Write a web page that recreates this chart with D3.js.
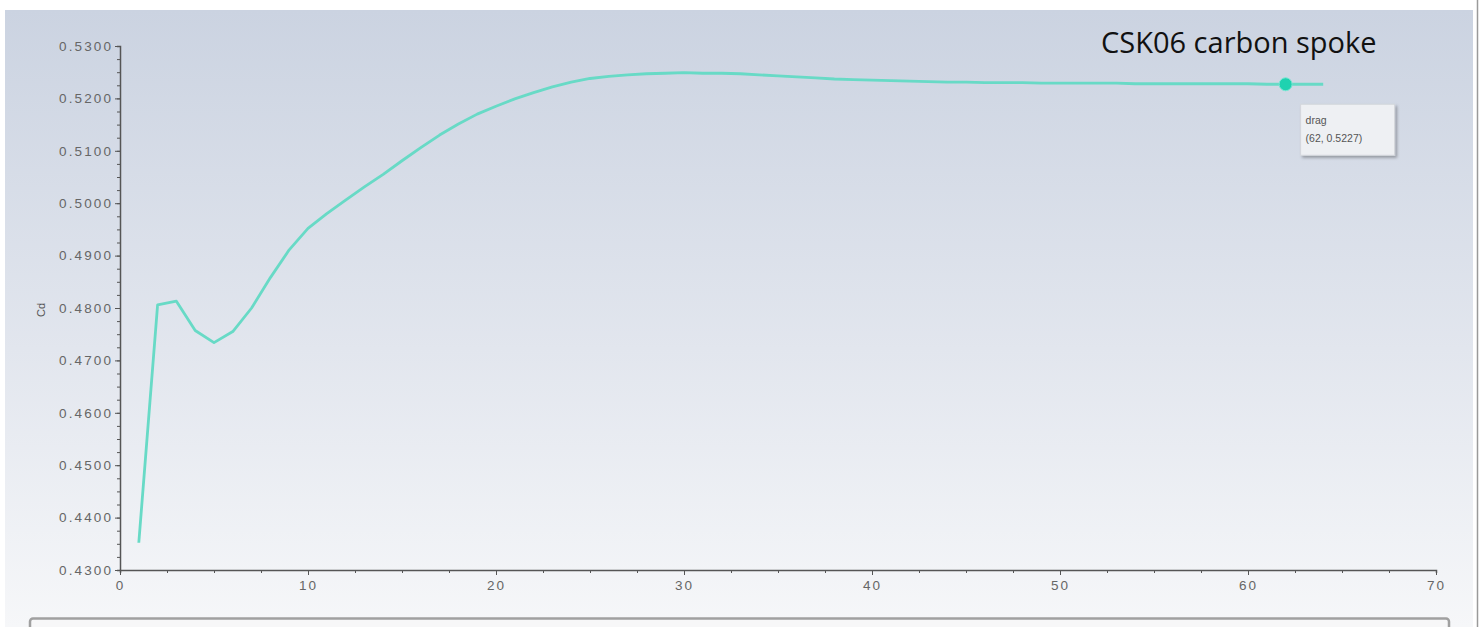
<!DOCTYPE html>
<html>
<head>
<meta charset="utf-8">
<script src="https://cdn.jsdelivr.net/npm/d3@7"></script>
<style>
  html, body { margin: 0; padding: 0; background: #ffffff; }
  svg { display: block; }
</style>
</head>
<body>
<svg id="chart" width="1482" height="627"></svg>
<script>
// ---- data ----
const iterations = [1,2,3,4,5,6,7,8,9,10,11,12,13,14,15,16,17,18,19,20,21,22,23,24,25,26,27,28,29,30,31,32,
  33,34,35,36,37,38,39,40,41,42,43,44,45,46,47,48,49,50,51,52,53,54,55,56,57,58,59,60,61,62,63,64];
const cdValues = [0.4352,0.4806,0.4813,0.4757,0.4734,0.4755,0.4800,0.4858,0.4911,0.4952,0.4980,0.5006,
  0.5031,0.5055,0.5081,0.5106,0.5130,0.5151,0.5170,0.5185,0.5199,0.5211,0.5222,0.5231,0.5238,0.5242,
  0.5245,0.5247,0.5248,0.5249,0.5248,0.5248,0.5247,0.5245,0.5243,0.5241,0.5239,0.5237,0.5236,0.5235,
  0.5234,0.5233,0.5232,0.5231,0.5231,0.5230,0.5230,0.5230,0.5229,0.5229,0.5229,0.5229,0.5229,0.5228,
  0.5228,0.5228,0.5228,0.5228,0.5228,0.5228,0.5227,0.5227,0.5227,0.5227];
const yTicks = [0.43,0.44,0.45,0.46,0.47,0.48,0.49,0.50,0.51,0.52,0.53];
const xTicks = [0,10,20,30,40,50,60,70];
const seriesName = "drag";
const annotationText = "CSK06 carbon spoke";
const yLabel = "Cd";
const highlight = { x: 62, y: 0.5227 };

// ---- drawing ----
const svg = d3.select("#chart");
const defs = svg.append("defs");
const grad = defs.append("linearGradient").attr("id","bg").attr("x1",0).attr("y1",0).attr("x2",0).attr("y2",1);
grad.append("stop").attr("offset","0%").attr("stop-color","#cbd3e1");
grad.append("stop").attr("offset","55%").attr("stop-color","#e2e6ee");
grad.append("stop").attr("offset","100%").attr("stop-color","#f6f7f9");

const shadow = defs.append("filter").attr("id","sh").attr("x","-20%").attr("y","-20%").attr("width","150%").attr("height","160%");
shadow.append("feDropShadow").attr("dx",2).attr("dy",2).attr("stdDeviation",1.5).attr("flood-color","#000").attr("flood-opacity",0.3);

// panel background
svg.append("rect").attr("x",5).attr("y",10).attr("width",1468).attr("height",617).attr("fill","url(#bg)");
svg.append("line").attr("x1",1477.5).attr("x2",1477.5).attr("y1",0).attr("y2",627).attr("stroke","#9a9a9a").attr("stroke-width",1.5);
// lower panel edge
svg.append("rect").attr("x",30).attr("y",618.5).attr("width",1419).attr("height",20).attr("rx",3)
  .attr("fill","#f7f7f8").attr("stroke","#a0a0a0").attr("stroke-width",2.5);

const x = d3.scaleLinear().domain([0,70]).range([120,1436]);
const y = d3.scaleLinear().domain([0.43,0.53]).range([570,46]);

const axisColor = "#555";
const labelFont = "'Liberation Sans', Arial, sans-serif";

// y axis minor
const yMinor = d3.range(0, 41).map(i => 0.43 + i*0.0025);
svg.append("g").attr("transform","translate(120,0)")
  .call(d3.axisLeft(y).tickValues(yMinor).tickSize(3).tickFormat(""))
  .call(g => g.selectAll("line").attr("stroke",axisColor))
  .call(g => g.select(".domain").attr("stroke",axisColor).attr("stroke-width",1.5));
// y axis major
svg.append("g").attr("transform","translate(120,0)")
  .call(d3.axisLeft(y).tickValues(yTicks).tickSize(5).tickPadding(2).tickFormat(d3.format(".4f")))
  .call(g => g.select(".domain").remove())
  .call(g => g.selectAll("line").attr("stroke",axisColor))
  .call(g => g.selectAll("text").attr("fill","#666").attr("font-family",labelFont)
      .attr("font-size",13.5).style("letter-spacing","2.1px"));

// x axis minor
const xMinor = d3.range(0, 29).map(i => i*2.5);
svg.append("g").attr("transform","translate(0,570)")
  .call(d3.axisBottom(x).tickValues(xMinor).tickSize(3).tickFormat(""))
  .call(g => g.selectAll("line").attr("stroke",axisColor))
  .call(g => g.select(".domain").attr("stroke",axisColor).attr("stroke-width",1.5));
// x axis major
svg.append("g").attr("transform","translate(0,570)")
  .call(d3.axisBottom(x).tickValues(xTicks).tickSize(5).tickPadding(5).tickFormat(d3.format("d")))
  .call(g => g.select(".domain").remove())
  .call(g => g.selectAll("line").attr("stroke",axisColor))
  .call(g => g.selectAll("text").attr("fill","#666").attr("font-family",labelFont)
      .attr("font-size",13.5).style("letter-spacing","2.1px"));

// y label
svg.append("text").attr("transform","translate(45,310) rotate(-90)")
  .attr("text-anchor","middle").attr("font-family",labelFont).attr("font-size",11)
  .attr("fill","#555").text(yLabel);

// line
const data = iterations.map((it,i) => ({x: it, y: cdValues[i]}));
svg.append("path").datum(data)
  .attr("fill","none").attr("stroke","#68dac6").attr("stroke-width",2.8)
  .attr("stroke-linejoin","round")
  .attr("d", d3.line().x(d => x(d.x)).y(d => y(d.y)).curve(d3.curveLinear));

// highlight dot
svg.append("circle").attr("cx",x(highlight.x)).attr("cy",y(highlight.y)).attr("r",6.5)
  .attr("fill","#1fd2b0").attr("stroke","#7be6d4").attr("stroke-width",1);

// tooltip
const tx = x(highlight.x) + 15, ty = y(highlight.y) + 20;
svg.append("rect").attr("x",tx).attr("y",ty).attr("width",94).attr("height",51)
  .attr("fill","#eef0f3").attr("stroke","#d4d7dc").attr("filter","url(#sh)");
svg.append("text").attr("x",tx+5).attr("y",ty+20).attr("font-family",labelFont).attr("font-size",10.5)
  .attr("fill","#555").text(seriesName);
svg.append("text").attr("x",tx+5).attr("y",ty+38).attr("font-family",labelFont).attr("font-size",10.5)
  .attr("fill","#555").text(`(${highlight.x}, ${d3.format(".4f")(highlight.y)})`);

// annotation
svg.append("text").attr("x",1101).attr("y",53).attr("font-family","'Open Sans', sans-serif")
  .attr("font-size",29).attr("fill","#111").text(annotationText);
</script>
</body>
</html>
